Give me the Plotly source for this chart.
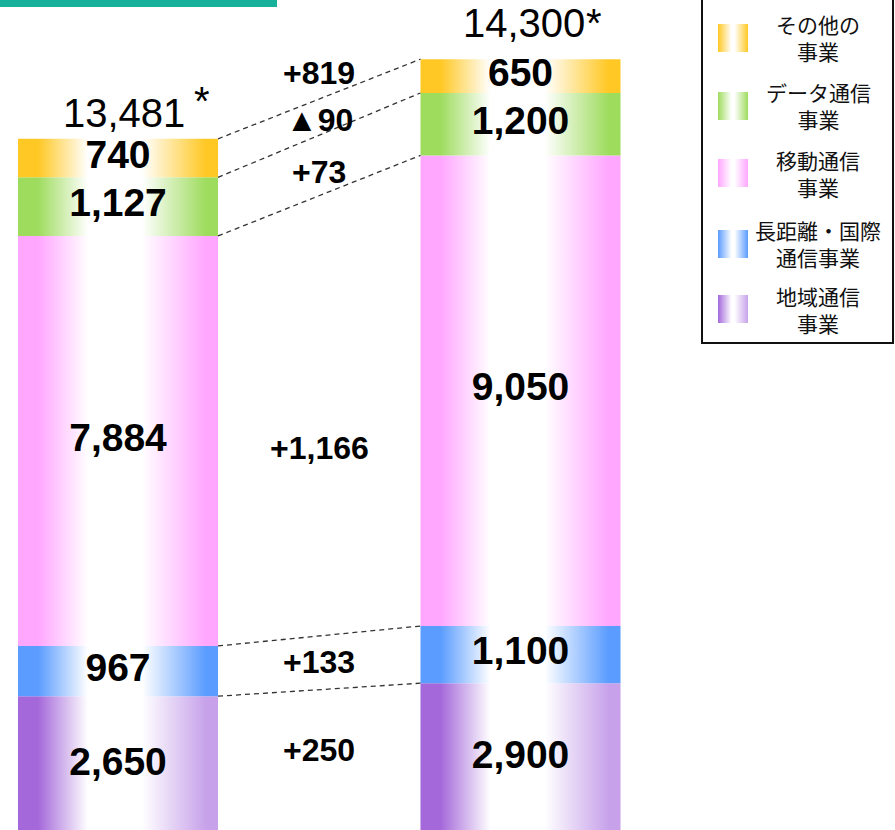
import plotly.graph_objects as go

# ---------------- data ----------------
periods = ["前期", "今期"]
segment_names = ["地域通信事業", "長距離・国際通信事業", "移動通信事業", "データ通信事業", "その他の事業"]  # bottom -> top
values_prev = [2650, 967, 7884, 1127, 740]
values_next = [2900, 1100, 9050, 1200, 650]
total_labels = ["13,481", "14,300"]
diff_labels = ["+250", "+133", "+1,166", "+73", "▲90", "+819"]
legend_labels = ["地域通信<br>事業", "長距離・国際<br>通信事業", "移動通信<br>事業", "データ通信<br>事業", "その他の<br>事業"]

# ---------------- styles / positions ----------------
edge_colors = [("#A468DA", "#C7A2EA"), ("#5A9CFF", "#5A9CFF"), ("#FFA6FF", "#FFA6FF"),
               ("#9EDC5E", "#9EDC5E"), ("#FFC824", "#FFC824")]
bar_pos = [0, 1]
half_w = 0.2485
diff_label_y = [1615, 3308, 7423, 12730, 13730, 14635]
total_shift = [(6, 2), (3, 12)]          # (xshift, yshift) px of total number
star_shift = [(84, 14), (73, 12)]        # (xshift, yshift) px of asterisk
W, H = 895, 830
legend_item_cy = [309, 244, 173, 106, 38]   # px from top (bottom->top segment order)
TXT = "Liberation Sans, Arial, sans-serif"

def grad(c):
    l, r = c
    return [[0, l], [0.1, l], [0.35, "#FFFFFF"], [0.62, "#FFFFFF"], [0.94, r], [1, r]]

fig = go.Figure()

cums = []
for bi, vals in enumerate([values_prev, values_next]):
    base = 0
    cum = [0]
    xc = bar_pos[bi]
    x0, x1 = xc - half_w, xc + half_w
    for si, v in enumerate(vals):
        fig.add_trace(go.Scatter(
            x=[x0, x1, x1, x0, x0], y=[base, base, base + v, base + v, base],
            fill="toself", mode="lines", line=dict(width=0, color="rgba(0,0,0,0)"),
            fillgradient=dict(type="horizontal", colorscale=grad(edge_colors[si])),
            hoverinfo="skip", showlegend=False, name=segment_names[si]))
        base += v
        cum.append(base)
    cums.append(cum)
    mids = [cum[i] + vals[i] / 2 for i in range(len(vals))]
    fig.add_trace(go.Scatter(
        x=[xc] * len(vals), y=mids, mode="text", text=[f"{v:,}" for v in vals],
        textfont=dict(family=TXT, size=39, color="#000", weight="bold"),
        hoverinfo="skip", showlegend=False))
    fig.add_annotation(x=xc, y=cum[-1], text=total_labels[bi], showarrow=False,
                       xanchor="center", yanchor="bottom",
                       xshift=total_shift[bi][0], yshift=total_shift[bi][1],
                       font=dict(family=TXT, size=40, color="#000"))
    fig.add_annotation(x=xc, y=cum[-1], text="*", showarrow=False,
                       xanchor="center", yanchor="bottom",
                       xshift=star_shift[bi][0], yshift=star_shift[bi][1],
                       font=dict(family=TXT, size=40, color="#000"))

# dashed connectors between boundaries
for k in range(1, len(values_prev) + 1):
    fig.add_trace(go.Scatter(
        x=[bar_pos[0] + half_w, bar_pos[1] - half_w], y=[cums[0][k], cums[1][k]],
        mode="lines", line=dict(color="#333", width=1.3, dash="5px,4px"),
        hoverinfo="skip", showlegend=False))

# difference labels
for t, yv in zip(diff_labels, diff_label_y):
    fig.add_annotation(x=(bar_pos[0] + bar_pos[1]) / 2, y=yv, text=t, showarrow=False,
                       xanchor="center", yanchor="middle",
                       font=dict(family=TXT, size=32, color="#000", weight="bold"))

# ---------------- legend (overlay axes in paper-like units) ----------------
sw_x0, sw_x1 = 718 / W, 748 / W
for si in range(len(segment_names)):
    cy = 1 - legend_item_cy[si] / H
    y0, y1 = cy - 14 / H, cy + 14 / H
    fig.add_trace(go.Scatter(
        x=[sw_x0, sw_x1, sw_x1, sw_x0, sw_x0], y=[y0, y0, y1, y1, y0],
        xaxis="x2", yaxis="y2", fill="toself", mode="lines",
        line=dict(width=0, color="rgba(0,0,0,0)"),
        fillgradient=dict(type="horizontal", colorscale=[[0, edge_colors[si][0]], [0.45, "#FFFFFF"], [0.55, "#FFFFFF"], [1, edge_colors[si][1]]]),
        hoverinfo="skip", showlegend=False))
    fig.add_annotation(x=818 / W, y=cy, xref="paper", yref="paper", text=legend_labels[si],
                       showarrow=False, xanchor="center", yanchor="middle", align="center",
                       font=dict(family="Noto Sans CJK JP, sans-serif", size=21, color="#111"))

fig.add_shape(type="rect", xref="paper", yref="paper", x0=702 / W, x1=893 / W,
              y0=1 - 343 / H, y1=1.05, line=dict(color="#111", width=2), fillcolor="rgba(0,0,0,0)")
fig.add_shape(type="rect", xref="paper", yref="paper", x0=0, x1=277 / W,
              y0=1 - 7 / H, y1=1.01, line=dict(width=0), fillcolor="#17B09A")

x_lo = bar_pos[0] - 118 / 402.5
x_hi = bar_pos[1] + (W - 520.5) / 402.5
fig.update_layout(
    width=W, height=H, margin=dict(l=0, r=0, t=0, b=0),
    paper_bgcolor="#FFFFFF", plot_bgcolor="#FFFFFF",
    xaxis=dict(range=[x_lo, x_hi], visible=False, fixedrange=True),
    yaxis=dict(range=[77, 16038], visible=False, fixedrange=True),
    xaxis2=dict(range=[0, 1], visible=False, overlaying="x", anchor="y2"),
    yaxis2=dict(range=[0, 1], visible=False, overlaying="y", anchor="x2"),
    showlegend=False,
)

fig.write_html("out.html", config={"displayModeBar": False})
